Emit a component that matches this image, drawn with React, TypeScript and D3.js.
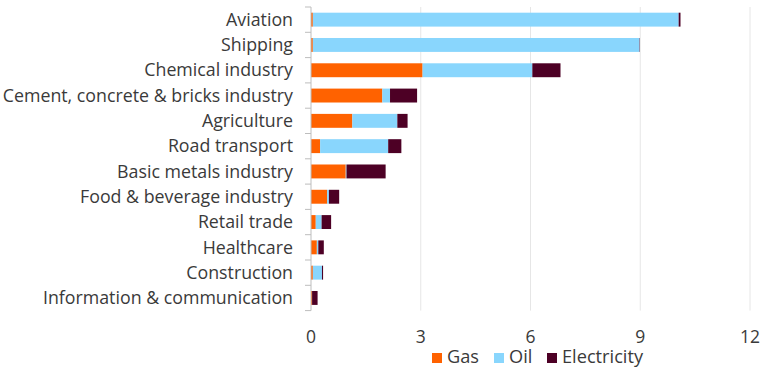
import React, { useEffect, useRef } from "react";
import * as d3 from "d3";

const categories = [
  "Aviation",
  "Shipping",
  "Chemical industry",
  "Cement, concrete & bricks industry",
  "Agriculture",
  "Road transport",
  "Basic metals industry",
  "Food & beverage industry",
  "Retail trade",
  "Healthcare",
  "Construction",
  "Information & communication",
];
const gas = [0.05, 0.05, 3.05, 1.95, 1.13, 0.25, 0.95, 0.44, 0.13, 0.16, 0.05, 0.03];
const oil = [10.0, 8.93, 3.0, 0.21, 1.23, 1.86, 0.02, 0.05, 0.16, 0.04, 0.25, 0.0];
const electricity = [0.05, 0.01, 0.77, 0.74, 0.28, 0.36, 1.07, 0.28, 0.26, 0.15, 0.03, 0.15];
const seriesNames = ["Gas", "Oil", "Electricity"];
const seriesColors = ["#FF6200", "#89D6FD", "#4D0025"];
const xTicks = [0, 3, 6, 9, 12];

const W = 768;
const H = 373;
const FONT = "'Open Sans', sans-serif";
const TEXT = "#3a3a3a";

export default function App() {
  const ref = useRef<SVGSVGElement>(null);
  useEffect(() => {
    const svg = d3.select(ref.current);
    svg.selectAll("*").remove();
    const x = d3.scaleLinear().domain([0, 12]).range([311, 750]);
    const y = d3.scaleBand().domain(categories).range([7, 310.6]).paddingInner(0.45).paddingOuter(0.225);

    // gridlines
    svg.append("g").selectAll("line").data(xTicks.filter((t) => t > 0)).join("line")
      .attr("x1", (d) => x(d)).attr("x2", (d) => x(d))
      .attr("y1", 7).attr("y2", 310.6)
      .attr("stroke", "#e6e6e6").attr("stroke-width", 1);

    const rows = categories.map((c, i) => ({ c, Gas: gas[i], Oil: oil[i], Electricity: electricity[i] }));
    const stack = d3.stack<any>().keys(seriesNames)(rows);
    svg.append("g").selectAll("g").data(stack).join("g")
      .attr("fill", (_, i) => seriesColors[i])
      .selectAll("rect").data((s) => s).join("rect")
      .attr("x", (d) => x(d[0]))
      .attr("width", (d) => Math.max(0, x(d[1]) - x(d[0])))
      .attr("y", (d) => y(d.data.c)!)
      .attr("height", y.bandwidth());

    // axis line + ticks
    const ax = svg.append("g");
    ax.append("line").attr("x1", 311).attr("x2", 311).attr("y1", 7).attr("y2", 310.6)
      .attr("stroke", "#bdbdbd").attr("stroke-width", 1);
    const step = y.step();
    ax.selectAll("line.t").data(d3.range(categories.length + 1)).join("line").attr("class", "t")
      .attr("x1", 305).attr("x2", 311)
      .attr("y1", (i) => 7 + i * step).attr("y2", (i) => 7 + i * step)
      .attr("stroke", "#bdbdbd");

    svg.append("g").selectAll("text").data(categories).join("text")
      .attr("x", 293).attr("y", (d) => y(d)! + y.bandwidth() / 2)
      .attr("dy", "0.35em").attr("text-anchor", "end")
      .attr("font-family", FONT).attr("font-size", 17.8).attr("fill", TEXT)
      .text((d) => d);

    svg.append("g").selectAll("text").data(xTicks).join("text")
      .attr("x", (d) => x(d)).attr("y", 343).attr("text-anchor", "middle")
      .attr("font-family", FONT).attr("font-size", 17.5).attr("fill", TEXT)
      .text((d) => String(d));

    const legendX = [432, 494, 547];
    const lg = svg.append("g");
    seriesNames.forEach((n, i) => {
      lg.append("rect").attr("x", legendX[i]).attr("y", 353).attr("width", 10).attr("height", 10).attr("fill", seriesColors[i]);
      lg.append("text").attr("x", legendX[i] + 15).attr("y", 363)
        .attr("font-family", FONT).attr("font-size", 18.2).attr("fill", TEXT).text(n);
    });
  }, []);
  return (
    <svg ref={ref} width={W} height={H} style={{ position: "absolute", left: 0, top: 0, background: "#fff" }} />
  );
}
